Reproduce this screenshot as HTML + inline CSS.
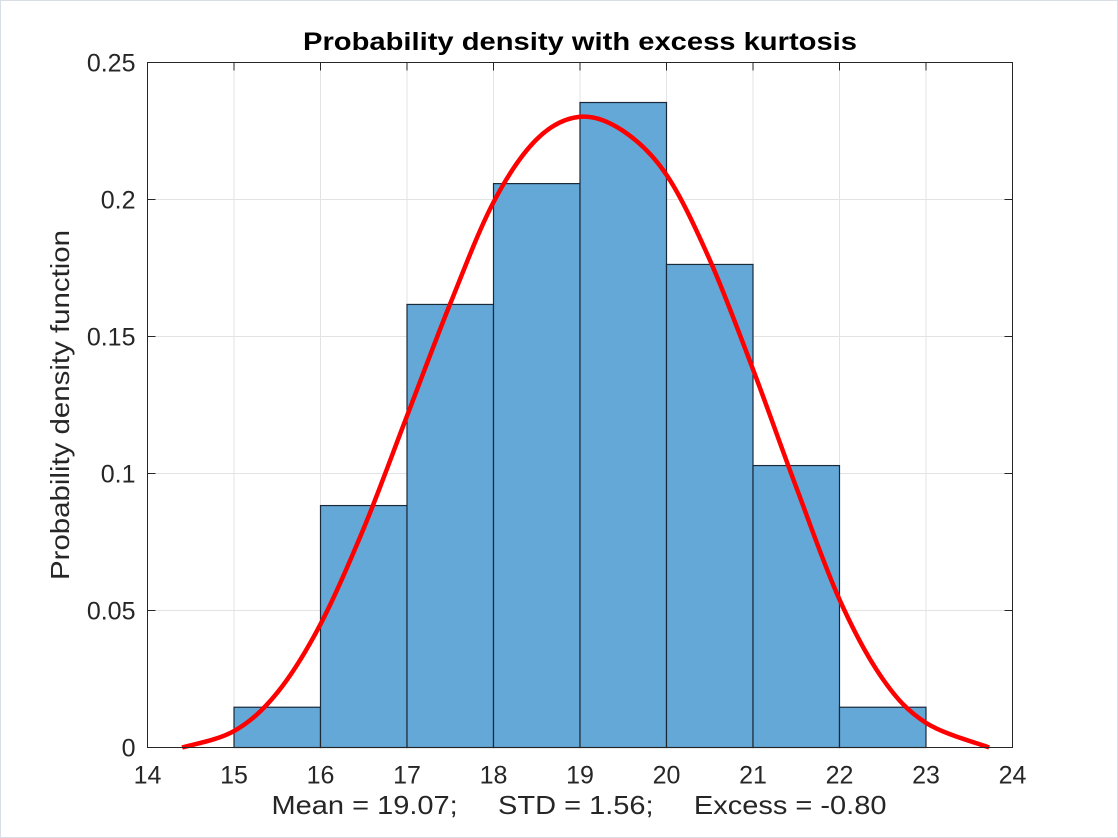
<!DOCTYPE html>
<html><head><meta charset="utf-8"><style>
html,body{margin:0;padding:0;background:#fff;}
svg{display:block;font-family:"Liberation Sans",Arial,sans-serif;}
</style></head><body>
<svg id="chart" width="1118" height="838">
<rect x="0.5" y="0.5" width="1117" height="837" fill="#fff" stroke="#d8dde6"/>
<g id="grid"></g>
<g id="bars"></g>
<g id="curve"></g>
<rect x="147.5" y="62.5" width="865" height="685" fill="none" stroke="#262626" stroke-width="1"/>
<g id="ticks"></g>
<text x="580" y="50" text-anchor="middle" font-size="25" font-weight="bold" fill="#000" textLength="554" lengthAdjust="spacingAndGlyphs">Probability density with excess kurtosis</text>
<text x="579" y="814" text-anchor="middle" font-size="26" fill="#262626" xml:space="preserve" textLength="615" lengthAdjust="spacingAndGlyphs">Mean = 19.07;     STD = 1.56;     Excess = -0.80</text>
<text transform="translate(69,405) rotate(-90)" text-anchor="middle" font-size="26" fill="#262626" textLength="350" lengthAdjust="spacingAndGlyphs">Probability density function</text>
</svg>
<script>
const binEdges=[15,16,17,18,19,20,21,22,23];
const binValues=[0.0147,0.0883,0.1617,0.2058,0.2354,0.1763,0.1029,0.0147];
const curveX=[14.4,15,15.5,16,16.5,17,17.5,18,18.5,19,19.5,20,20.5,21,21.5,22,22.5,23,23.73];
const curveY=[0,0.006,0.02,0.045,0.08,0.121,0.162,0.199,0.222,0.2302,0.225,0.209,0.178,0.138,0.095,0.054,0.025,0.009,0];
const xTicks=[14,15,16,17,18,19,20,21,22,23,24];
const yTicks=[0,0.05,0.1,0.15,0.2,0.25];
const yTickLabels=["0","0.05","0.1","0.15","0.2","0.25"];
const NS="http://www.w3.org/2000/svg";
const X0=147.5,X1=1012.5,Y0=747.5,Y1=62.5;
function sx(v){return X0+(v-14)/10*(X1-X0);}
function sy(v){return Y0-v/0.25*(Y0-Y1);}
function mk(t,a,p){const e=document.createElementNS(NS,t);for(const k in a)e.setAttribute(k,a[k]);p.appendChild(e);return e;}
const grid=document.getElementById('grid'),bars=document.getElementById('bars'),ticks=document.getElementById('ticks'),cg=document.getElementById('curve');
xTicks.forEach(t=>{
 const g=mk('line',{x1:sx(t),x2:sx(t),y1:Y0,y2:Y1,stroke:'#e3e3e3','stroke-width':1},grid);
 
 
 const a=mk('line',{x1:sx(t),x2:sx(t),y1:Y0,y2:Y0-8,stroke:'#262626'},ticks);
 
 
 const b=mk('line',{x1:sx(t),x2:sx(t),y1:Y1,y2:Y1+8,stroke:'#262626'},ticks);
 
 
 const l=mk('text',{x:sx(t),y:Y0+36,'text-anchor':'middle','font-size':25,fill:'#262626'},ticks);
 l.textContent=t;
 
 
});
yTicks.forEach((t,i)=>{
 const g=mk('line',{x1:X0,x2:X1,y1:sy(t),y2:sy(t),stroke:'#e3e3e3','stroke-width':1},grid);
 
 
 const a=mk('line',{x1:X0,x2:X0+8,y1:sy(t),y2:sy(t),stroke:'#262626'},ticks);
 
 
 const b=mk('line',{x1:X1,x2:X1-8,y1:sy(t),y2:sy(t),stroke:'#262626'},ticks);
 
 
 const l=mk('text',{x:X0-12,y:sy(t)+9,'text-anchor':'end','font-size':25,fill:'#262626'},ticks);
 l.textContent=yTickLabels[i];
 
 
});
binValues.forEach((v,i)=>{
 const x=sx(binEdges[i]),w=sx(binEdges[i+1])-x;
 const r=mk('rect',{x:x,y:sy(v),width:w,height:sy(0)-sy(v),fill:'#64a8d7',stroke:'#1a2a3a','stroke-width':1.2},bars);
 
 
});
const pts=curveX.map((x,i)=>[sx(x),sy(curveY[i])]);
let d='M'+pts[0][0]+','+pts[0][1];
for(let i=0;i<pts.length-1;i++){
 const p0=pts[Math.max(0,i-1)],p1=pts[i],p2=pts[i+1],p3=pts[Math.min(pts.length-1,i+2)];
 const c1=[p1[0]+(p2[0]-p0[0])/6,p1[1]+(p2[1]-p0[1])/6];
 const c2=[p2[0]-(p3[0]-p1[0])/6,p2[1]-(p3[1]-p1[1])/6];
 d+=' C'+c1+' '+c2+' '+p2;
}
const path=mk('path',{d:d,fill:'none',stroke:'#ff0000','stroke-width':4.5,'stroke-linejoin':'round'},cg);


</script>
</body></html>
